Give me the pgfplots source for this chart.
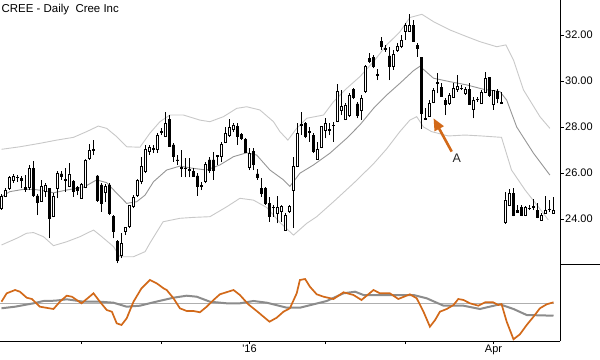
\documentclass[border=0pt]{standalone}
\usepackage{pgfplots}
\pgfplotsset{compat=1.18}
\usepackage{pgfplotstable}
\usepackage{fontspec}
\usetikzlibrary{arrows.meta}
\newfontfamily\lsans{Liberation Sans}
\definecolor{osc}{RGB}{210,105,25}
\definecolor{band}{RGB}{200,200,200}
\definecolor{midband}{RGB}{150,150,150}
\definecolor{oscgrey}{RGB}{140,140,140}
\definecolor{refline}{RGB}{175,175,175}

\pgfplotstableread{
i o h l c
0 24.46 25.07 24.40 24.97
1 24.97 25.33 24.94 25.23
2 25.33 25.87 25.26 25.81
3 25.70 25.96 25.58 25.87
4 25.80 25.91 25.62 25.83
5 25.75 25.87 25.33 25.67
6 25.36 25.91 25.19 25.29
7 25.38 26.35 25.26 26.20
8 26.20 26.52 24.97 25.04
9 25.00 25.09 24.17 24.71
10 24.78 25.70 24.75 25.43
11 25.19 25.58 24.97 25.48
12 25.33 25.36 23.16 24.03
13 24.10 25.12 24.07 25.00
14 25.33 26.10 24.90 25.99
15 25.96 26.10 25.70 25.84
16 25.72 26.20 25.19 25.67
17 25.43 26.42 25.38 25.96
18 25.65 25.70 24.97 25.19
19 25.38 25.43 25.04 25.26
20 24.90 25.55 24.87 25.52
21 25.38 26.60 25.33 26.57
22 26.64 27.26 26.57 26.97
23 27.04 27.43 26.78 27.00
24 25.87 25.91 24.75 24.83
25 25.48 25.55 24.32 24.68
26 25.14 25.52 24.75 25.43
27 25.48 25.55 24.17 24.25
28 24.10 24.17 23.16 23.45
29 23.01 23.09 22.07 22.22
30 22.43 23.38 22.29 22.94
31 23.45 23.67 23.30 23.62
32 23.67 24.61 23.59 24.59
33 24.57 25.04 24.46 24.94
34 25.04 25.72 24.97 25.70
35 25.62 26.71 25.50 26.28
36 26.06 27.22 25.99 27.03
37 26.93 27.22 26.78 27.12
38 27.04 27.22 26.86 27.07
39 27.03 27.72 26.86 27.65
40 27.78 27.94 27.65 27.80
41 27.58 28.67 27.55 28.16
42 28.31 28.52 27.15 27.17
43 27.22 27.29 26.49 26.74
44 26.57 26.78 26.35 26.55
45 26.25 27.00 25.84 26.22
46 26.22 26.64 25.81 26.18
47 26.15 26.64 25.81 26.12
48 26.06 26.20 25.84 25.87
49 25.87 25.99 25.00 25.41
50 25.43 25.62 25.26 25.45
51 25.62 26.49 25.55 26.39
52 26.57 26.71 25.99 26.10
53 26.57 26.93 25.70 26.13
54 26.78 26.80 26.35 26.71
55 26.74 27.36 26.49 27.26
56 27.32 28.01 27.29 27.72
57 27.65 28.33 27.58 27.97
58 27.90 28.16 27.80 28.09
59 28.04 28.19 27.22 27.61
60 27.68 27.75 27.44 27.51
61 27.44 27.51 26.86 26.88
62 26.25 27.07 26.13 26.86
63 26.93 27.07 26.13 26.39
64 25.96 26.16 25.70 25.81
65 25.33 25.77 24.97 25.12
66 25.33 25.41 24.61 24.68
67 24.68 24.97 23.88 24.10
68 24.51 24.61 24.10 24.50
69 24.25 25.00 23.81 24.51
70 24.32 24.61 23.88 24.57
71 23.52 24.25 23.49 24.17
72 24.32 24.61 24.25 24.54
73 25.26 26.71 23.60 26.27
74 26.30 28.16 26.25 27.72
75 28.07 28.64 27.65 28.10
76 28.16 28.23 27.51 27.58
77 27.80 28.01 27.36 27.78
78 27.65 27.72 26.86 26.93
79 26.61 27.36 26.57 27.04
80 27.10 28.06 27.07 28.01
81 27.87 28.38 27.51 28.16
82 27.88 28.16 27.65 27.87
83 28.05 28.23 27.36 28.07
84 28.23 29.85 28.20 29.56
85 28.71 29.60 28.52 28.88
86 28.33 29.03 28.30 28.96
87 28.52 29.47 28.45 29.39
88 29.64 29.68 29.20 29.29
89 29.00 29.10 28.38 28.52
90 28.74 29.39 28.30 29.25
91 29.53 30.70 29.47 30.62
92 30.99 31.20 30.77 30.84
93 31.03 31.13 30.55 30.62
94 30.27 30.51 30.04 30.25
95 31.71 31.90 31.35 31.49
96 31.40 31.57 31.27 31.38
97 31.09 31.49 30.04 30.62
98 30.62 31.35 30.48 31.17
99 31.32 31.64 31.28 31.52
100 31.49 32.00 31.42 31.78
101 32.14 32.51 31.78 32.43
102 32.17 32.90 32.14 32.43
103 32.43 32.65 31.71 31.74
104 31.56 31.64 31.06 31.42
105 31.01 31.06 27.91 28.59
106 28.38 28.81 28.30 28.33
107 28.48 29.17 28.45 29.03
108 29.06 29.68 29.03 29.58
109 29.90 30.33 29.46 29.92
110 29.72 29.90 29.32 29.35
111 29.17 29.25 28.52 29.00
112 29.03 29.46 28.96 29.39
113 29.29 29.90 29.25 29.68
114 29.64 30.26 29.54 29.78
115 29.68 29.83 29.61 29.70
116 29.46 29.72 29.39 29.64
117 29.64 29.90 28.96 28.99
118 28.77 29.29 28.38 29.17
119 29.20 29.32 29.10 29.22
120 29.03 29.61 28.99 29.49
121 29.49 30.41 29.46 30.12
122 30.16 30.19 29.32 29.39
123 29.00 29.61 28.74 29.58
124 29.55 29.64 29.03 29.25
125 29.05 29.54 29.02 29.04
126 23.86 25.19 23.79 24.83
127 24.61 25.31 24.55 25.10
128 25.13 25.33 24.11 24.17
129 24.36 24.61 24.25 24.28
130 24.51 24.61 24.13 24.17
131 24.17 24.55 24.13 24.51
132 24.46 24.61 24.39 24.48
133 24.54 24.86 24.39 24.52
134 24.39 24.68 24.03 24.07
135 23.96 24.28 23.93 24.17
136 24.25 25.00 24.22 24.39
137 24.43 24.83 24.32 24.41
138 24.25 24.97 24.22 24.39
}\candles

\pgfplotsset{pricebox/.style={scale only axis, width=560bp, height=264bp,
  xmin=-0.375, xmax=139.625, ymin=22.043, ymax=33.522,
  at={(0bp,96bp)}, anchor=south west}}

\begin{document}
\begin{tikzpicture}
\path[use as bounding box] (0,0) rectangle (600bp,360bp);

% price axis with bands and wicks
\begin{axis}[pricebox,
  axis x line=none, axis y line*=right,
  axis line style={black, line width=0.8bp},
  ytick={24,26,28,30,32},
  yticklabels={24.00,26.00,28.00,30.00,32.00},
  tick align=outside, major tick length=4bp,
  tick style={black, line width=0.8bp},
  yticklabel style={font=\lsans\fontsize{11}{13}\selectfont, inner sep=1bp, anchor=west},
  xtick=\empty]
\addplot[band, line width=0.9bp] coordinates {
(0,27.03) (4.6,27.14) (9.6,27.29) (13.8,27.43) (18,27.55) (21.3,27.80) (24.2,28.04)
(26.3,27.94) (28.8,27.58) (31.3,27.14) (34.6,27.12) (37.1,27.73) (39.6,28.23)
(42.1,28.52) (45.5,28.52) (49.6,28.30) (52.1,28.23) (55.5,28.45) (58.8,28.81)
(61.3,28.88) (64.6,28.74) (68,28.23) (69.6,27.80) (71.6,27.43) (73.8,27.94)
(76.3,28.38) (80.5,28.52) (83,29.10) (86.3,29.68) (89.6,30.19) (93,30.84)
(96.3,31.57) (99.6,32.14) (102.1,32.76) (105.1,32.90) (108,32.58) (112.1,32.22)
(116.3,31.93) (119.6,31.71) (123.8,31.49) (126.1,31.57) (128,30.91) (130.5,29.61)
(134.6,28.45) (137.1,27.94)};
\addplot[band, line width=0.9bp] coordinates {
(0,22.87) (3.8,23.16) (6.3,23.38) (8,23.41) (10.5,23.23) (13,22.84) (16.3,23.01)
(19.6,23.23) (23,23.52) (24.6,23.30) (28,22.80) (29.6,22.36) (33,22.36) (35.9,22.58)
(37.1,22.95) (40.4,23.88) (44.6,24.03) (48,24.07) (52.1,24.10) (56.3,24.53)
(59.6,24.90) (63,24.82) (66.3,24.50) (69.6,23.85) (73,23.30) (76.3,23.81)
(78.8,24.10) (83,24.75) (88,25.55) (93,26.40) (96.3,27.05) (99.6,27.80)
(102.1,28.30) (103.8,28.45) (105.5,28.00) (107.5,27.80) (111.7,27.61) (115.9,27.65)
(120,27.61) (125,27.55) (127.5,26.13) (130.9,25.26) (134.2,24.53) (136.7,23.96)};
\addplot[midband, line width=0.9bp] coordinates {
(0,24.97) (2.1,25.19) (5.5,25.29) (8,25.29) (10.5,25.23) (13,25.14) (16.3,25.26)
(20.5,25.38) (23.8,25.70) (26.3,25.58) (28.8,25.12) (31.3,24.68) (33.8,24.75)
(35.9,25.04) (38,25.62) (41.3,26.13) (44.6,26.30) (48,26.20) (51.3,26.13)
(54.6,26.35) (58,26.71) (61.3,26.88) (63.8,26.78) (67.1,26.13) (70.5,25.70)
(72.1,25.42) (74.6,25.99) (78,26.35) (82.1,26.86) (86.3,27.51) (89.6,28.09)
(93,28.81) (96.3,29.39) (99.6,29.90) (103,30.45) (104.6,30.64) (108,30.12)
(112.1,29.97) (116.3,29.83) (120.5,29.64) (124.6,29.54) (126.3,29.17) (128.8,28.00)
(133,26.86) (137.1,25.91)};
\addplot[draw=none, mark=none, forget plot,
  error bars/.cd, y dir=plus, y explicit, error mark=none,
  error bar style={draw=black, solid, line width=0.75bp}]
  table[x=i, y=l, y error expr=\thisrow{h}-\thisrow{l}] {\candles};
\end{axis}

% candle bodies
\begin{axis}[pricebox, hide axis, ybar stacked, bar width=0.65]
\addplot[draw=none, fill=none] table[x=i, y expr={min(\thisrow{o},\thisrow{c})}] {\candles};
\addplot[draw=black, fill=white, line width=0.75bp]
  table[x=i, y expr={\thisrow{c}>=\thisrow{o} ? \thisrow{c}-\thisrow{o} : 0}] {\candles};
\addplot[draw=black, fill=black, line width=0.75bp]
  table[x=i, y expr={\thisrow{c}<\thisrow{o} ? \thisrow{o}-\thisrow{c} : 0}] {\candles};
\draw[osc, line width=2.6bp, -{Triangle[length=12bp,width=10bp]}]
  (axis cs:112.55,26.93) -- (axis cs:108.0,28.38);
\node[font=\lsans\fontsize{12.5}{14}\selectfont, inner sep=0pt, text=black!85]
  at (axis cs:113.8,26.66) {A};
\end{axis}

% oscillator panel
\begin{axis}[scale only axis, width=560bp, height=77bp,
  at={(0bp,19bp)}, anchor=south west,
  xmin=-0.375, xmax=139.625, ymin=0, ymax=77,
  axis x line*=bottom, axis y line*=right,
  axis line style={black, line width=0.8bp},
  ytick=\empty,
  xtick={20,40,62,81,101,123},
  xticklabels={,,'16,,,Apr},
  tick align=outside, major tick length=3bp,
  tick style={black, line width=0.8bp},
  xticklabel style={font=\lsans\fontsize{11}{13}\selectfont, inner sep=1bp}]
\addplot[refline, line width=0.8bp] coordinates {(-0.375,37.7) (138,37.7)};
\addplot[oscgrey, line width=2bp] coordinates {
(0,32.7) (3.4,34.3) (8,37.7) (10.5,40) (13.4,40.3) (16.3,41.7) (20.5,39.3) (24.6,39.3)
(28,38.3) (31.3,34.3) (34.6,35.3) (38,38.7) (43,43.3) (46.3,45.3) (48.8,44.3)
(52.1,39.3) (56.3,37.7) (59.6,37.7) (63,40) (66.3,38.3) (71.3,33.3) (74.6,33.3)
(81.3,40) (85.5,47.7) (88.4,49.3) (90.5,46) (96.3,46) (103,46) (106.3,42.7)
(110.5,35.3) (115.5,35.3) (119.6,32) (124.6,36.7) (128,32) (131.3,26) (138,25.3)};
\addplot[osc, line width=1.7bp] coordinates {
(0,39.3) (1.3,47.7) (3.4,51) (4.6,49.3) (6.3,43.3) (7.6,42) (9.6,34.3) (13,32)
(14.6,39.3) (16.3,45.3) (17.6,44.3) (20,37.7) (21.7,43.3) (23,47.7) (24.6,39.3)
(26.3,31) (27.6,29.3) (28.8,17.7) (30,16) (31.3,22.7) (33,39.3) (35,52.7) (37.1,61)
(38.8,57.7) (40.5,52.7) (41.3,51) (43,42.7) (44.6,32.7) (46.3,30) (48,30) (49.6,28.7)
(51.3,34.3) (53,41) (54.6,46.7) (58,51) (59.6,46) (61.7,36.7) (63.8,30) (65.5,24.3)
(67,19.3) (68.8,23.3) (70.5,29.3) (72.1,32.7) (73.8,47.7) (74.6,61) (75.9,62)
(77.1,54.3) (78.8,46.7) (80.5,44.3) (83,42) (85.5,48.7) (88,46) (90,41) (93,51)
(94.6,47.7) (97.1,47.7) (99.2,42) (102.1,46.7) (103.8,42.7) (105.5,29.3) (107.1,14.3)
(108.4,21) (109.6,29.3) (111.3,32) (113,36) (114.2,42) (115.5,41) (117.1,37.7)
(119.2,35.3) (120.9,38.7) (122.9,38.7) (124.2,36) (125,37) (126.3,19.3) (128,1.7)
(129.6,6.7) (131.3,16) (133,24.3) (134.6,32.7) (136.3,36.7) (138,38.7)};
\end{axis}

\draw[black, line width=0.8bp] (560bp,96bp) -- (600bp,96bp);
\node[anchor=base west, inner sep=0pt, font=\lsans\fontsize{11.5}{13}\selectfont]
  at (1.5bp,347.3bp) {CREE - Daily\ \ Cree Inc};
\end{tikzpicture}
\end{document}
